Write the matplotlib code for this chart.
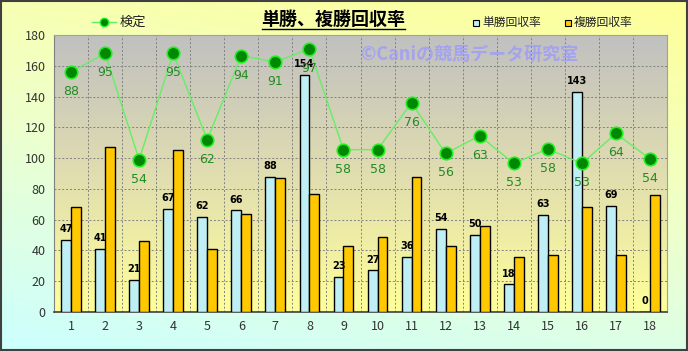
import numpy as np
import matplotlib
matplotlib.use("Agg")
import matplotlib.pyplot as plt
from matplotlib.colors import LinearSegmentedColormap
from matplotlib.patches import Rectangle
from matplotlib.lines import Line2D

plt.rcParams['font.family'] = ['Noto Sans CJK JP', 'DejaVu Sans']

categories = [str(i) for i in range(1, 19)]
tansho = [47, 41, 21, 67, 62, 66, 88, 154, 23, 27, 36, 54, 50, 18, 63, 143, 69, 0]
fukusho = [68, 107, 46, 105, 41, 64, 87, 77, 43, 49, 88, 43, 56, 36, 37, 68, 37, 76]
kentei_pos = [156, 168, 99, 168, 112, 166.5, 162.5, 171, 105.5, 105.5, 136, 103, 114.5, 96.5, 106, 96.5, 116, 99.5]
kentei_labels = [88, 95, 54, 95, 62, 94, 91, 97, 58, 58, 76, 56, 63, 53, 58, 53, 64, 54]
yticks = [0, 20, 40, 60, 80, 100, 120, 140, 160, 180]

W, H = 688, 351
fig = plt.figure(figsize=(W/100, H/100), dpi=100)

# figure background gradient
bg = fig.add_axes([0, 0, 1, 1], zorder=-10)
bg.set_axis_off()
yy, xx = np.mgrid[0:1:200j, 0:1:200j]
t = np.clip(0.75*yy + 0.25*(1-xx), 0, 1)
cm_bg = LinearSegmentedColormap.from_list('bg', ['#FFFF99', '#EEFFCC', '#CCFFFF'])
bg.imshow(t, cmap=cm_bg, extent=[0, 1, 0, 1], aspect='auto', origin='upper')
bg.set_xlim(0, 1); bg.set_ylim(0, 1)
bg.add_patch(Rectangle((0.001, 0.002), 0.997, 0.995, fill=False, edgecolor='#404040', lw=1.5))

ax = fig.add_axes([54/W, 1-312/H, 613/W, 277/H])
x = np.arange(1, 19)
ax.set_xlim(0.5, 18.5)
ax.set_ylim(0, 180)

# plot area gradient
grad = np.linspace(0, 1, 256).reshape(-1, 1)
cm_pa = LinearSegmentedColormap.from_list('pa', ['#C0C0C0', '#E0DDB0', '#FFFF99'])
ax.imshow(grad, cmap=cm_pa, extent=[0.5, 18.5, 0, 180], aspect='auto', origin='upper', zorder=0)

for yv in yticks[1:-1]:
    ax.axhline(yv, color='#808080', lw=0.7, ls=(0, (2, 2)), zorder=1)
for xv in np.arange(1.5, 18.5, 1):
    ax.axvline(xv, color='#808080', lw=0.7, ls=(0, (2, 2)), zorder=1)

ax.text(470/W, 1-54/H, '©Caniの競馬データ研究室', transform=fig.transFigure, ha='center', va='center',
        fontsize=13, color='#9999FF', alpha=0.75, fontweight='bold', zorder=2)

bw = 0.29
ax.bar(x - bw/2, tansho, width=bw, color='#BFEFF5', edgecolor='black', lw=1.0, zorder=3)
ax.bar(x + bw/2, fukusho, width=bw, color='#FFC800', edgecolor='black', lw=1.0, zorder=3)

for xi, v in zip(x, tansho):
    ax.annotate(str(v), (xi - bw/2, v), xytext=(0, 4), textcoords='offset points',
                ha='center', va='bottom', fontsize=7, fontweight='bold', color='black',
                family='DejaVu Sans', zorder=6)

ax.plot(x, kentei_pos, color='#66EE66', lw=1.0, zorder=4,
        marker='o', markersize=9, markerfacecolor='#008800', markeredgecolor='#22EE22', markeredgewidth=1.2)
for xi, p, lab in zip(x, kentei_pos, kentei_labels):
    ax.annotate(str(lab), (xi, p), xytext=(0, -14), textcoords='offset points',
                ha='center', va='center', fontsize=9, color='#228B22', family='DejaVu Sans', zorder=7)

ax.set_xticks(x)
ax.set_xticklabels(categories)
ax.set_yticks(yticks)
ax.tick_params(length=0, labelsize=9, colors='#333333', pad=6)
for s in ['top', 'right']:
    ax.spines[s].set_color('#A0A0A0')
ax.spines['left'].set_color('#808080')
ax.spines['bottom'].set_color('#404040')
ax.spines['bottom'].set_linewidth(1.2)

# title
fig.text(333/W, 1-19/H, '単勝、複勝回収率', ha='center', va='center', fontsize=13,
         fontweight='bold', color='black')
fig.add_artist(Line2D([262/W, 405/W], [1-29/H, 1-29/H], color='black', lw=1))

# legends
fig.add_artist(Line2D([92/W, 116/W], [1-22/H, 1-22/H], color='#66EE66', lw=1))
fig.add_artist(Line2D([104/W], [1-22/H], marker='o', markersize=6, markerfacecolor='#008800',
                      markeredgecolor='#22EE22', lw=0))
fig.text(120/W, 1-22/H, '検定', ha='left', va='center', fontsize=9.5, color='#222222')

fig.add_artist(Rectangle((473/W, 1-26/H), 6/W, 6/H, facecolor='#BFEFF5', edgecolor='black', lw=0.8))
fig.text(482/W, 1-22/H, '単勝回収率', ha='left', va='center', fontsize=8.5, color='#222222')
fig.add_artist(Rectangle((565/W, 1-26/H), 6/W, 6/H, facecolor='#FFC800', edgecolor='black', lw=0.8))
fig.text(574/W, 1-22/H, '複勝回収率', ha='left', va='center', fontsize=8.5, color='#222222')

fig.savefig('out.png', dpi=100)
